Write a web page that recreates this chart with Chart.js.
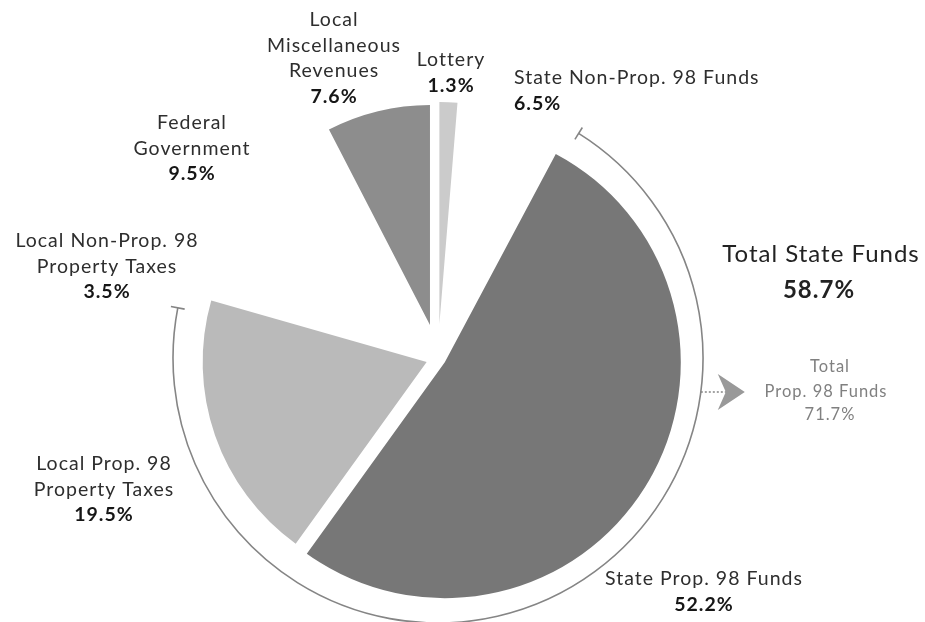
<!DOCTYPE html>
<html>
<head>
<meta charset="utf-8">
<title>Prop. 98 Funding Sources</title>
<script src="https://cdn.jsdelivr.net/npm/chart.js@4.4.1/dist/chart.umd.min.js"></script>
<style>
    html, body { margin: 0; padding: 0; background: #fff; }
    #wrap { position: relative; width: 925px; height: 622px; }
</style>
</head>
<body>
<div id="wrap"><canvas id="chartFuentes"></canvas></div>
<script>
// data, clockwise from 12 o'clock
const categories = ['Lottery', 'State Non-Prop. 98 Funds', 'State Prop. 98 Funds', 'Local Prop. 98 Property Taxes',
    'Local Non-Prop. 98 Property Taxes', 'Federal Government', 'Local Miscellaneous Revenues'];
const shares = [1.3, 6.5, 52.2, 19.5, 3.5, 9.5, 7.6];
const labelLines = [['Lottery'], ['State Non-Prop. 98 Funds'], ['State Prop. 98 Funds'], ['Local Prop. 98', 'Property Taxes'],
    ['Local Non-Prop. 98', 'Property Taxes'], ['Federal', 'Government'], ['Local', 'Miscellaneous', 'Revenues']];
const stateFundsIdx = [1, 2];   // Total State Funds
const prop98Idx = [2, 3];       // Total Prop. 98 Funds

// look
const sliceColors = ['#cbcbcb', '#ffffff', '#777777', '#bababa', '#ffffff', '#ffffff', '#8d8d8d'];
const sliceShift = [34, 20, 8, 12, 20, 20, 34];
const sliceRadius = [222, 220, 236, 224, 220, 220, 220];
const labelAt = [
    { x: 451, y: 60, align: 'center' },
    { x: 514, y: 78, align: 'left' },
    { x: 704, y: 579, align: 'center' },
    { x: 104, y: 464, align: 'center' },
    { x: 107, y: 241, align: 'center' },
    { x: 192, y: 123, align: 'center' },
    { x: 334, y: 20, align: 'center' }
];
const FONT = 'Lato, "Open Sans", sans-serif';

const pct = v => v.toFixed(1) + '%';
const sumOf = idx => idx.reduce((s, i) => s + shares[i], 0);

let centro = { x: 0, y: 0 };

const explodePlugin = {
    id: 'explode',
    afterDatasetsUpdate(chart) {
        const area = chart.chartArea;
        centro = { x: (area.left + area.right) / 2, y: (area.top + area.bottom) / 2 };
        chart.getDatasetMeta(0).data.forEach((arc, i) => {
            const mid = (arc.startAngle + arc.endAngle) / 2;
            arc.x = centro.x + sliceShift[i] * Math.cos(mid);
            arc.y = centro.y + sliceShift[i] * Math.sin(mid);
            arc.outerRadius = sliceRadius[i];
        });
    }
};

const labelsPlugin = {
    id: 'labels',
    afterDraw(chart) {
        const ctx = chart.ctx;
        const arcs = chart.getDatasetMeta(0).data;
        ctx.save();

        // 1. bracket round the Prop. 98 slices
        const r = 265;
        const a0 = arcs[prop98Idx[0]].startAngle + 4 * Math.PI / 180;
        const a1 = arcs[prop98Idx[1]].endAngle - 5 * Math.PI / 180;
        ctx.strokeStyle = '#858585';
        ctx.lineWidth = 1.6;
        ctx.beginPath();
        ctx.arc(centro.x, centro.y, r, a0, a1);
        ctx.stroke();
        [a0, a1].forEach(a => {
            ctx.beginPath();
            ctx.moveTo(centro.x + (r - 7) * Math.cos(a), centro.y + (r - 7) * Math.sin(a));
            ctx.lineTo(centro.x + (r + 7) * Math.cos(a), centro.y + (r + 7) * Math.sin(a));
            ctx.stroke();
        });

        // 2. arrow to "Total Prop. 98 Funds"
        const ay = 392;
        const ax = centro.x + Math.sqrt(r * r - (ay - centro.y) ** 2);
        ctx.setLineDash([2, 2]);
        ctx.beginPath();
        ctx.moveTo(ax, ay);
        ctx.lineTo(ax + 26, ay);
        ctx.stroke();
        ctx.setLineDash([]);
        ctx.fillStyle = '#999999';
        ctx.beginPath();
        ctx.moveTo(ax + 44, ay);
        ctx.lineTo(ax + 17, ay - 18);
        ctx.lineTo(ax + 25, ay);
        ctx.lineTo(ax + 17, ay + 18);
        ctx.closePath();
        ctx.fill();

        // 3. slice labels
        ctx.textBaseline = 'middle';
        ctx.letterSpacing = '1px';
        labelLines.forEach((lines, i) => {
            const p = labelAt[i];
            ctx.textAlign = p.align;
            ctx.fillStyle = '#2e2e2e';
            ctx.font = '400 19.5px ' + FONT;
            lines.forEach((t, k) => ctx.fillText(t, p.x, p.y + k * 25.5));
            ctx.fillStyle = '#161616';
            ctx.font = '700 19.5px ' + FONT;
            ctx.fillText(pct(shares[i]), p.x, p.y + lines.length * 25.5);
        });

        // 4. totals
        ctx.textAlign = 'center';
        ctx.fillStyle = '#222';
        ctx.font = '400 24px ' + FONT;
        ctx.fillText('Total State Funds', 821, 254);
        ctx.font = '700 24px ' + FONT;
        ctx.fillText(pct(sumOf(stateFundsIdx)), 819, 290);

        ctx.fillStyle = '#808080';
        ctx.font = '400 16.5px ' + FONT;
        ctx.fillText('Total', 830, 367);
        ctx.fillText('Prop. 98 Funds', 826, 392);
        ctx.fillText(pct(sumOf(prop98Idx)), 830, 415);
        ctx.restore();
    }
};

new Chart(document.getElementById('chartFuentes'), {
    type: 'pie',
    data: {
        labels: categories,
        datasets: [{ data: shares, backgroundColor: sliceColors, borderWidth: 0 }]
    },
    options: {
        responsive: true,
        maintainAspectRatio: false,
        animation: false,
        events: [],
        radius: 224,
        layout: { padding: { left: 0, right: 49, top: 94, bottom: 0 } },
        plugins: { legend: { display: false }, tooltip: { enabled: false } }
    },
    plugins: [explodePlugin, labelsPlugin]
});
</script>
</body>
</html>
